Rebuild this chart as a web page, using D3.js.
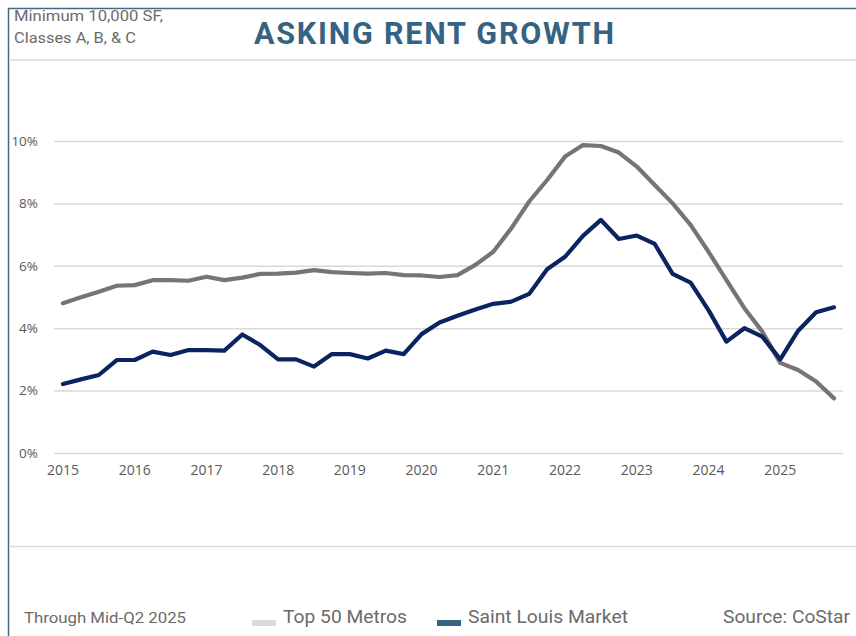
<!DOCTYPE html>
<html>
<head>
<meta charset="utf-8">
<script src="https://cdn.jsdelivr.net/npm/d3@7"></script>
<style>
  html, body { margin: 0; padding: 0; background: #fff; }
  svg { display: block; }
</style>
</head>
<body>
<div id="chart"></div>
<script>
// ======================================================
// Asking rent growth, quarterly, 2015 Q1 - 2025 Q4
// ======================================================

const YEARS = d3.range(2015, 2026);
const QUARTERS = YEARS.flatMap(y => [1, 2, 3, 4].map(q => `${y} Q${q}`));

// values in percent
const top50Metros = [
  4.80, 4.99, 5.17, 5.36, 5.38, 5.54, 5.54, 5.52, 5.65, 5.54, 5.62,
  5.74, 5.75, 5.78, 5.86, 5.80, 5.77, 5.75, 5.77, 5.70, 5.69, 5.64,
  5.70, 6.03, 6.45, 7.20, 8.06, 8.75, 9.50, 9.87, 9.84, 9.63, 9.18,
  8.59, 8.00, 7.31, 6.45, 5.54, 4.64, 3.89, 2.89, 2.66, 2.29, 1.75
];

const saintLouis = [
  2.21, 2.36, 2.50, 2.98, 2.98, 3.25, 3.14, 3.30, 3.30, 3.28, 3.80,
  3.46, 3.00, 3.00, 2.77, 3.17, 3.17, 3.03, 3.28, 3.17, 3.81, 4.18,
  4.40, 4.60, 4.78, 4.85, 5.10, 5.89, 6.29, 6.96, 7.47, 6.86, 6.97,
  6.70, 5.74, 5.46, 4.58, 3.57, 4.00, 3.73, 3.00, 3.92, 4.51, 4.67
];

const Y_TICKS = [0, 2, 4, 6, 8, 10];

const width = 856;
const height = 636;

const svg = d3.select("#chart")
  .append("svg")
  .attr("width", width)
  .attr("height", height);

// frame: dark top and left rules, light separators
const frameColor = "#3e6a85";
svg.append("line")
  .attr("x1", 8).attr("x2", width).attr("y1", 8.5).attr("y2", 8.5)
  .attr("stroke", frameColor).attr("stroke-width", 1.5);
svg.append("line")
  .attr("x1", 8.5).attr("x2", 8.5).attr("y1", 8).attr("y2", height)
  .attr("stroke", frameColor).attr("stroke-width", 1.5);
svg.append("line")
  .attr("x1", 9).attr("x2", width).attr("y1", 60).attr("y2", 60)
  .attr("stroke", "#e3e3e3").attr("stroke-width", 2);
svg.append("line")
  .attr("x1", 9).attr("x2", width).attr("y1", 546.5).attr("y2", 546.5)
  .attr("stroke", "#dcdcdc").attr("stroke-width", 1.5);

// header
const subFont = "Roboto, sans-serif";
svg.append("text")
  .attr("x", 14).attr("y", 21)
  .attr("font-family", subFont)
  .attr("font-size", "15.5px")
  .attr("textLength", 149)
  .attr("lengthAdjust", "spacingAndGlyphs")
  .attr("fill", "#6b6b6b")
  .text("Minimum 10,000 SF,");
svg.append("text")
  .attr("x", 14).attr("y", 43)
  .attr("font-family", subFont)
  .attr("font-size", "15.5px")
  .attr("textLength", 122)
  .attr("lengthAdjust", "spacingAndGlyphs")
  .attr("fill", "#6b6b6b")
  .text("Classes A, B, & C");

svg.append("text")
  .attr("x", 254).attr("y", 44)
  .attr("font-family", "Roboto, sans-serif")
  .attr("font-weight", "bold")
  .attr("font-size", "30.5px")
  .attr("textLength", 360)
  .attr("lengthAdjust", "spacing")
  .attr("fill", "#356381")
  .text("ASKING RENT GROWTH");

// plot
const plotLeft = 54, plotRight = 843;
const x = d3.scaleBand()
  .domain(QUARTERS)
  .range([plotLeft, plotRight])
  .padding(0);
const xc = q => x(q) + x.bandwidth() / 2;

const y = d3.scaleLinear()
  .domain([0, 10])
  .range([453, 141]);

const g = svg.append("g");

// gridlines
g.append("g")
  .call(d3.axisLeft(y).tickValues(Y_TICKS).tickSize(-(plotRight - plotLeft)).tickFormat(""))
  .attr("transform", `translate(${plotLeft},0)`)
  .call(a => a.select(".domain").remove())
  .call(a => a.selectAll("line").attr("stroke", "#d9d9d9").attr("stroke-width", 1.5));

const axisFont = "'Open Sans', sans-serif";

// y axis labels
g.append("g")
  .attr("transform", `translate(38,0)`)
  .call(d3.axisLeft(y).tickValues(Y_TICKS).tickSize(0).tickPadding(0).tickFormat(d => `${d}%`))
  .call(a => a.select(".domain").remove())
  .call(a => a.selectAll("text")
    .attr("font-family", axisFont)
    .attr("font-size", "13.5px")
    .attr("fill", "#595959"));

// x axis labels at each Q1
g.append("g")
  .attr("transform", `translate(0,465)`)
  .call(d3.axisBottom(x)
    .tickValues(YEARS.map(yr => `${yr} Q1`))
    .tickSize(0)
    .tickPadding(0)
    .tickFormat(d => d.slice(0, 4)))
  .call(a => a.select(".domain").remove())
  .call(a => a.selectAll("text")
    .attr("font-family", axisFont)
    .attr("font-size", "14px")
    .attr("fill", "#595959"));

const line = d3.line()
  .x((d, i) => xc(QUARTERS[i]))
  .y(d => y(d));

g.append("path")
  .datum(top50Metros)
  .attr("fill", "none")
  .attr("stroke", "#787474")
  .attr("stroke-width", 4.2)
  .attr("stroke-linejoin", "round")
  .attr("stroke-linecap", "round")
  .attr("d", line);

g.append("path")
  .datum(saintLouis)
  .attr("fill", "none")
  .attr("stroke", "#0b2461")
  .attr("stroke-width", 4.2)
  .attr("stroke-linejoin", "round")
  .attr("stroke-linecap", "round")
  .attr("d", line);

// footer
svg.append("text")
  .attr("x", 24).attr("y", 623)
  .attr("font-family", "Roboto, sans-serif")
  .attr("font-size", "15px")
  .attr("textLength", 162)
  .attr("lengthAdjust", "spacingAndGlyphs")
  .attr("fill", "#6b6b6b")
  .text("Through Mid-Q2 2025");

const legend = [
  { label: "Top 50 Metros", color: "#d9d9d9", x: 252, w: 24, tl: 124 },
  { label: "Saint Louis Market", color: "#356381", x: 437, w: 24, tl: 160 }
];
legend.forEach(d => {
  svg.append("rect")
    .attr("x", d.x).attr("y", 620)
    .attr("width", d.w).attr("height", 6)
    .attr("fill", d.color);
  svg.append("text")
    .attr("x", d.x + 31).attr("y", 623)
    .attr("font-family", "Roboto, sans-serif")
    .attr("font-size", "18px")
    .attr("textLength", d.tl)
    .attr("lengthAdjust", "spacingAndGlyphs")
    .attr("fill", "#6b6b6b")
    .text(d.label);
});

svg.append("text")
  .attr("x", 723).attr("y", 623)
  .attr("font-family", "Roboto, sans-serif")
  .attr("font-size", "18px")
  .attr("textLength", 127)
  .attr("lengthAdjust", "spacingAndGlyphs")
  .attr("fill", "#6b6b6b")
  .text("Source: CoStar");
</script>
</body>
</html>
